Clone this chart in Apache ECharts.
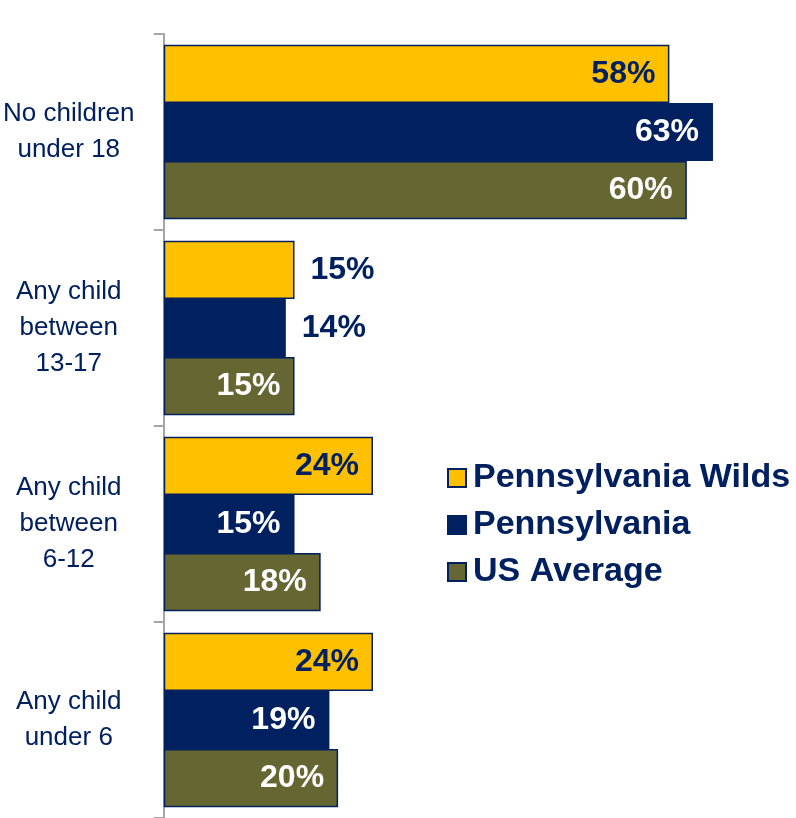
<!DOCTYPE html>
<html>
<head>
<meta charset="utf-8">
<script src="https://cdn.jsdelivr.net/npm/echarts@6/dist/echarts.min.js"></script>
<style>
  html,body{margin:0;padding:0;background:#fff;}
  #main{width:796px;height:818px;}
</style>
</head>
<body>
<div id="main"></div>
<script>
// 分类
var categories=["No children\nunder 18","Any child\nbetween\n13-17","Any child\nbetween\n6-12","Any child\nunder 6"];
// 系列
var seriesNames=["Pennsylvania Wilds","Pennsylvania","US Average"];
var wildsData=[58,15,24,24];
var paData=[63,14,15,19];
var usData=[60,15,18,20];

var colors=["#FFC000","#002060","#666633"];
var navy="#002060";

// 组装每个柱子的数据 (13-17 那一组前两个标签在柱外)
var buildData=function(values,sIdx){
  return values.map(function(v,i){
    var outside=(i===1&&sIdx<2);
    var item={value:v};
    if(outside){
      item.label={position:"right",distance:16,color:navy};
    }
    return item;
  });
};

var chart=echarts.init(document.getElementById("main"));
chart.setOption({
  animation:false,
  textStyle:{fontFamily:"Liberation Sans, Arial, sans-serif"},
  legend:{
    orient:"vertical",
    left:447,
    top:461,
    padding:0,
    itemWidth:18,
    itemHeight:18,
    itemGap:13,
    icon:"rect",
    textStyle:{color:navy,fontSize:34,fontWeight:"bold",lineHeight:32,padding:[0,0,0,2]},
    data:seriesNames
  },
  grid:{left:163,right:22,top:34,bottom:0,containLabel:false},
  xAxis:{type:"value",min:0,max:70,show:false},
  yAxis:{
    type:"category",
    inverse:true,
    data:categories,
    axisLine:{show:true,lineStyle:{color:"#A6A6A6",width:2}},
    axisTick:{show:true,length:10,lineStyle:{color:"#A6A6A6",width:2}},
    axisLabel:{align:"center",margin:95,color:navy,fontSize:26,lineHeight:36}
  },
  series:[0,1,2].map(function(s){
    var vals=[wildsData,paData,usData][s];
    return {
      name:seriesNames[s],
      type:"bar",
      barGap:"0%",
      barCategoryGap:"11%",
      data:buildData(vals,s),
      itemStyle:{color:colors[s],borderColor:navy,borderWidth:1.5},
      label:{
        show:true,
        position:"insideRight",
        distance:14,
        formatter:"{c}%",
        fontSize:32,
        fontWeight:"bold",
        color:s===0?navy:"#fff"
      }
    };
  })
});
</script>
</body>
</html>
